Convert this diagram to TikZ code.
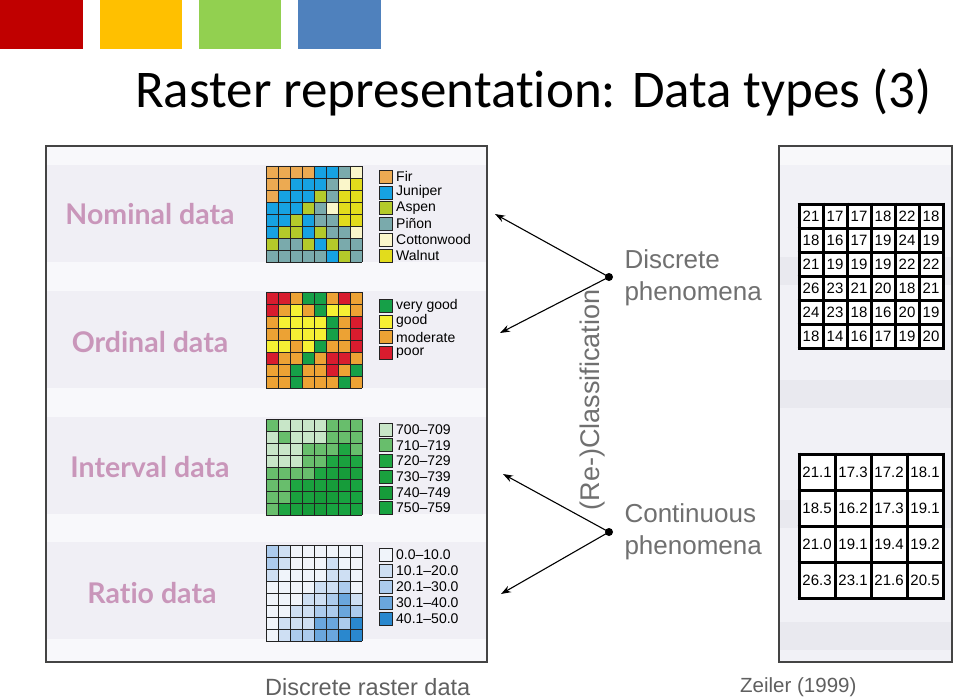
\documentclass[tikz,border=0pt]{standalone}
\usepackage{fontspec}
\setmainfont{Liberation Sans}
\newfontfamily\ttlfont{Carlito}[Ligatures=NoCommon]
\newfontfamily\lblfont{Lato}[Ligatures=NoCommon]
\usetikzlibrary{arrows.meta}
\definecolor{hdrR}{RGB}{192,0,0}
\definecolor{hdrO}{RGB}{255,192,0}
\definecolor{hdrG}{RGB}{146,208,80}
\definecolor{hdrB}{RGB}{79,129,189}
\definecolor{lblM}{RGB}{201,150,186}
\definecolor{txtG}{RGB}{112,112,112}
\definecolor{capG}{RGB}{96,96,96}
\definecolor{panBg}{RGB}{248,248,251}
\definecolor{panBd}{RGB}{240,239,245}
\definecolor{rpBg}{RGB}{241,241,246}
\definecolor{rpBd}{RGB}{233,233,239}
\definecolor{gridD}{RGB}{35,35,35}
% nominal
\definecolor{nF}{RGB}{236,170,82}
\definecolor{nJ}{RGB}{22,162,226}
\definecolor{nA}{RGB}{180,202,42}
\definecolor{nP}{RGB}{122,170,172}
\definecolor{nC}{RGB}{250,246,202}
\definecolor{nW}{RGB}{226,220,28}
% ordinal
\definecolor{oG}{RGB}{22,160,72}
\definecolor{oY}{RGB}{246,240,52}
\definecolor{oO}{RGB}{236,162,52}
\definecolor{oR}{RGB}{216,28,46}
% interval
\definecolor{i1}{RGB}{200,230,200}
\definecolor{i2}{RGB}{104,190,108}
\definecolor{i3}{RGB}{30,166,66}
\definecolor{i4}{RGB}{26,161,62}
\definecolor{i5}{RGB}{22,156,58}
\definecolor{i6}{RGB}{24,163,64}
% ratio
\definecolor{r1}{RGB}{240,244,250}
\definecolor{r2}{RGB}{206,223,243}
\definecolor{r3}{RGB}{172,203,237}
\definecolor{r4}{RGB}{106,166,221}
\definecolor{r5}{RGB}{42,136,206}

\begin{document}
\begin{tikzpicture}[x=1pt,y=-1pt,>={Stealth[length=10pt,width=7pt]},
  cellln/.style={draw=gridD,line width=0.7pt},
  keybox/.style={draw=gridD,line width=0.6pt},
  keytxt/.style={anchor=west,inner sep=0pt,font=\fontsize{14}{14}\selectfont},
  typelbl/.style={font=\lblfont\bfseries\fontsize{28.5}{28.5}\selectfont,text=lblM},
  numtxt/.style={font=\fontsize{15}{15}\selectfont,inner sep=0pt},
  dot/.style={circle,fill=black,inner sep=0pt,minimum size=8pt},
  phen/.style={align=left,anchor=west,text=txtG,font=\fontsize{26}{32}\selectfont}]
\useasboundingbox (0,0) rectangle (959,699);
\fill[white] (0,0) rectangle (959,699);
% colour bar and title
\fill[hdrR] (0,0) rectangle (83,49); \fill[hdrO] (100,0) rectangle (182,49);
\fill[hdrG] (199,0) rectangle (281,49); \fill[hdrB] (298,0) rectangle (381,49);
\node[anchor=base west,inner sep=0pt,font=\ttlfont\fontsize{53}{53}\selectfont] (ttl) at (135,107) {Raster representation: Data types (3)};
% left panel
\fill[panBg] (46,146) rectangle (487,662);
\foreach \y in {165,291,417,542} \fill[panBd] (47,\y) rectangle (486,\y+97);
\draw[gridD!85,line width=1.2pt] (46,146) rectangle (487,662);
\node[typelbl] (nom) at (150,214) {Nominal data};
\node[typelbl] (ord) at (150,342) {Ordinal data};
\node[typelbl] (itv) at (150,467) {Interval data};
\node[typelbl] (rat) at (152,593) {Ratio data};
% nominal grid
\begin{scope}[shift={(266,166)}]
\foreach \row [count=\r from 0] in {{F,F,F,F,J,J,P,C},{F,F,J,J,J,P,C,W},{F,J,J,J,A,P,W,W},{J,J,J,A,P,C,W,W},{J,J,A,J,P,P,W,W},{J,A,A,J,A,P,P,C},{A,P,P,A,J,A,P,P},{P,P,P,P,P,J,A,P}}
  {\foreach \c [count=\k from 0] in \row \fill[n\c] (\k*12,\r*12) rectangle ++(12,12);}
\foreach \i in {0,...,8} {\draw[cellln] (\i*12,0) -- ++(0,96); \draw[cellln] (0,\i*12) -- ++(96,0);}
\end{scope}
\foreach \c/\t [count=\i from 0] in {nF/Fir,nJ/Juniper,nA/Aspen,nP/Piñon,nC/Cottonwood,nW/Walnut}
  {\draw[keybox,fill=\c] (379,170+\i*15.8) rectangle ++(13,13); \node[keytxt] (kn\i) at (396,176.5+\i*15.8) {\t};}
% ordinal grid
\begin{scope}[shift={(266,292)}]
\foreach \row [count=\r from 0] in {{R,R,O,G,G,O,R,O},{R,O,Y,O,G,Y,Y,O},{O,Y,Y,Y,Y,G,O,R},{O,O,Y,Y,Y,G,O,R},{Y,Y,O,Y,G,O,O,R},{R,O,O,G,O,R,R,O},{O,O,G,O,O,R,O,G},{O,O,G,O,O,O,G,O}}
  {\foreach \c [count=\k from 0] in \row \fill[o\c] (\k*12,\r*12) rectangle ++(12,12);}
\foreach \i in {0,...,8} {\draw[cellln] (\i*12,0) -- ++(0,96); \draw[cellln] (0,\i*12) -- ++(96,0);}
\end{scope}
\foreach \c/\t [count=\i from 0] in {oG/very good,oY/good,oO/moderate,oR/poor}
  {\draw[keybox,fill=\c] (379,299+\i*15.8) rectangle ++(13,13); \node[keytxt] (ko\i) at (396,305.5+\i*15.8) {\t};}
% interval grid
\begin{scope}[shift={(266,419)}]
\foreach \row [count=\r from 0] in {{2,1,1,1,1,2,2,2},{1,2,1,1,1,2,2,2},{1,1,1,2,2,2,3,2},{1,1,1,2,2,3,4,3},{2,2,2,2,3,4,5,4},{2,2,3,4,4,5,5,6},{2,2,4,4,5,5,6,6},{2,3,4,5,5,6,6,6}}
  {\foreach \c [count=\k from 0] in \row \fill[i\c] (\k*12,\r*12) rectangle ++(12,12);}
\foreach \i in {0,...,8} {\draw[cellln] (\i*12,0) -- ++(0,96); \draw[cellln] (0,\i*12) -- ++(96,0);}
\end{scope}
\foreach \c/\t [count=\i from 0] in {i1/700--709,i2/710--719,i3/720--729,i4/730--739,i5/740--749,i6/750--759}
  {\draw[keybox,fill=\c] (379,423+\i*15.7) rectangle ++(13,13); \node[keytxt] (ki\i) at (396,429.5+\i*15.7) {\t};}
% ratio grid
\begin{scope}[shift={(266,545)}]
\foreach \row [count=\r from 0] in {{3,2,1,1,1,1,1,1},{3,2,1,1,1,2,1,1},{2,1,1,1,1,2,2,1},{1,1,1,1,2,2,3,1},{1,1,1,2,2,3,4,2},{1,1,2,2,3,3,4,3},{1,2,2,2,4,4,3,5},{1,2,3,3,4,4,5,5}}
  {\foreach \c [count=\k from 0] in \row \fill[r\c] (\k*12,\r*12) rectangle ++(12,12);}
\foreach \i in {0,...,8} {\draw[cellln] (\i*12,0) -- ++(0,96); \draw[cellln] (0,\i*12) -- ++(96,0);}
\end{scope}
\foreach \c/\t [count=\i from 0] in {r1/0.0--10.0,r2/10.1--20.0,r3/20.1--30.0,r4/30.1--40.0,r5/40.1--50.0}
  {\draw[keybox,fill=\c] (379,548.5+\i*15.9) rectangle ++(13,13); \node[keytxt] (kr\i) at (396,555+\i*15.9) {\t};}
\node[anchor=base west,inner sep=0pt,text=capG,font=\fontsize{23.5}{23.5}\selectfont] (capL) at (265,695) {Discrete raster data};
% middle: arrows
\node[dot] (dscr) at (609,277) {}; \node[dot] (cont) at (609,532) {};
\coordinate (dUp) at (495,214); \coordinate (dLo) at (500,333);
\coordinate (cUp) at (503,474); \coordinate (cLo) at (501,594);
\draw[->,line width=1.1pt] (dscr.center) -- (dUp); \draw[->,line width=1.1pt] (dscr.center) -- (dLo);
\draw[->,line width=1.1pt] (cont.center) -- (cUp); \draw[->,line width=1.1pt] (cont.center) -- (cLo);
\node[phen] (dtxt) at (621,278) {Discrete\\phenomena};
\node[phen] (ctxt) at (621,532) {Continuous\\phenomena};
\node[rotate=90,text=txtG,font=\fontsize{27}{27}\selectfont] (recl) at (593,400) {(Re-)Classification};
% right panel
\fill[rpBg] (779,146) rectangle (952,662);
\fill[white!50!rpBg] (780,147) rectangle (951,165);
\foreach \y in {257,380,500,622} \fill[rpBd] (780,\y) rectangle (951,\y+28);
\draw[gridD!85,line width=1.2pt] (779,146) rectangle (952,662);
\fill[white] (799,204) rectangle (943,348);
\foreach \row [count=\r from 0] in {{21,17,17,18,22,18},{18,16,17,19,24,19},{21,19,19,19,22,22},{26,23,21,20,18,21},{24,23,18,16,20,19},{18,14,16,17,19,20}}
  {\foreach \v [count=\k from 0] in \row \node[numtxt] (t\r\k) at (811+\k*24,216+\r*24) {\v};}
\foreach \i in {0,...,6} {\draw[line width=3pt] (799+\i*24,202.5) -- ++(0,147); \draw[line width=3pt] (797.5,204+\i*24) -- ++(147,0);}
\fill[white] (799,454) rectangle (943,598);
\foreach \row [count=\r from 0] in {{21.1,17.3,17.2,18.1},{18.5,16.2,17.3,19.1},{21.0,19.1,19.4,19.2},{26.3,23.1,21.6,20.5}}
  {\foreach \v [count=\k from 0] in \row \node[numtxt] (b\r\k) at (817+\k*36,472+\r*36) {\v};}
\foreach \i in {0,...,4} {\draw[line width=3pt] (799+\i*36,452.5) -- ++(0,147); \draw[line width=3pt] (797.5,454+\i*36) -- ++(147,0);}
\node[anchor=base west,inner sep=0pt,text=capG,font=\fontsize{20.5}{20.5}\selectfont] (capR) at (740,692) {Zeiler (1999)};
\end{tikzpicture}
\end{document}
